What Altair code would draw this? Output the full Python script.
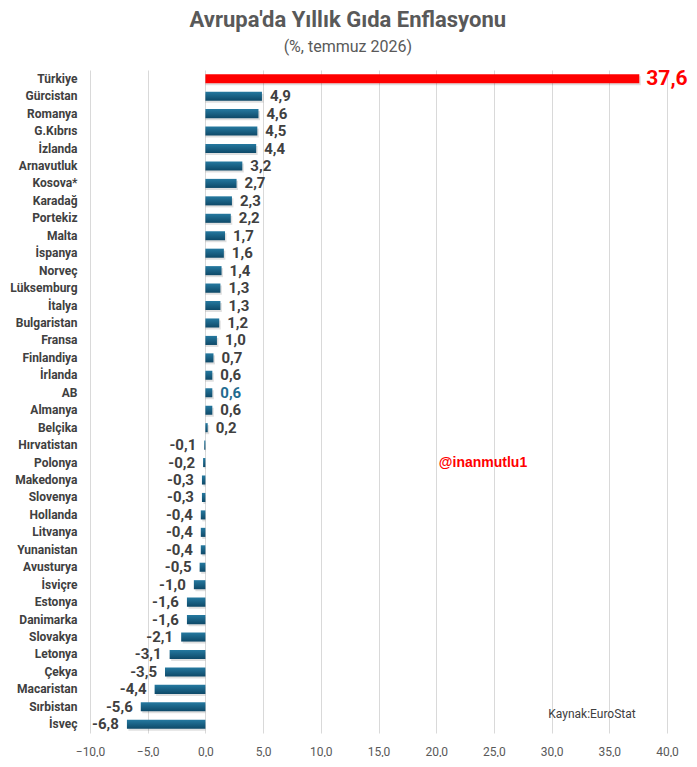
import altair as alt
import pandas as pd

countries = ["Türkiye", "Gürcistan", "Romanya", "G.Kıbrıs", "İzlanda", "Arnavutluk", "Kosova*",
             "Karadağ", "Portekiz", "Malta", "İspanya", "Norveç", "Lüksemburg", "İtalya",
             "Bulgaristan", "Fransa", "Finlandiya", "İrlanda", "AB", "Almanya", "Belçika",
             "Hırvatistan", "Polonya", "Makedonya", "Slovenya", "Hollanda", "Litvanya",
             "Yunanistan", "Avusturya", "İsviçre", "Estonya", "Danimarka", "Slovakya",
             "Letonya", "Çekya", "Macaristan", "Sırbistan", "İsveç"]
values = [37.6, 4.9, 4.6, 4.5, 4.4, 3.2, 2.7, 2.3, 2.2, 1.7, 1.6, 1.4, 1.3, 1.3, 1.2, 1.0,
          0.7, 0.6, 0.6, 0.6, 0.2, -0.1, -0.2, -0.3, -0.3, -0.4, -0.4, -0.4, -0.5, -1.0,
          -1.6, -1.6, -2.1, -3.1, -3.5, -4.4, -5.6, -6.8]
x_ticks = [-10, -5, 0, 5, 10, 15, 20, 25, 30, 35, 40]

df = pd.DataFrame({"country": countries, "value": values})
df["label"] = df["value"].map(lambda v: f"{v:.1f}".replace(".", ","))

FONT = "Roboto"
yenc = alt.Y("country:N", sort=countries, title=None,
             scale=alt.Scale(paddingInner=0.48, paddingOuter=0.24),
             axis=alt.Axis(labelFont=FONT, labelFontWeight="bold", labelFontSize=12,
                           labelColor="#404040", ticks=False, domain=False, labelPadding=13,
                           minExtent=82, maxExtent=82, grid=False))
xenc = alt.X("value:Q", title=None,
             scale=alt.Scale(domain=[-10, 40], nice=False),
             axis=alt.Axis(values=x_ticks, labelFont=FONT, labelFontSize=12,
                           labelColor="#595959", ticks=False, domain=False, grid=True,
                           gridColor="#d9d9d9", labelPadding=13, labelFlush=False,
                           labelExpr="replace(format(datum.value, '.1f'), '.', ',')"))

base = alt.Chart(df)

blue = alt.Gradient(gradient="linear", x1=0, y1=0, x2=0, y2=1,
                    stops=[alt.GradientStop(color="#2579a0", offset=0),
                           alt.GradientStop(color="#0e4968", offset=1)])

shadow = base.mark_bar(color="#000000", opacity=0.12, xOffset=1.5, yOffset=2).encode(
    x=xenc, x2=alt.datum(0), y=yenc)

bars = base.transform_filter(alt.datum.country != "Türkiye").mark_bar(color=blue).encode(
    x=xenc, x2=alt.datum(0), y=yenc)
red = base.transform_filter(alt.datum.country == "Türkiye").mark_bar(color="#ff0000").encode(
    x=xenc, x2=alt.datum(0), y=yenc)

LFONT = "Roboto"
pos_labels = base.transform_filter(
    (alt.datum.value >= 0) & (alt.datum.country != "Türkiye") & (alt.datum.country != "AB")
).mark_text(align="left", dx=8, font=LFONT, fontWeight="bold", fontSize=15,
            color="#404040").encode(x=xenc, y=yenc, text="label:N")
ab_label = base.transform_filter(alt.datum.country == "AB").mark_text(
    align="left", dx=8, font=LFONT, fontWeight="bold", fontSize=15,
    color="#1f6b8f").encode(x=xenc, y=yenc, text="label:N")
neg_labels = base.transform_filter(alt.datum.value < 0).mark_text(
    align="right", dx=-8, font=LFONT, fontWeight="bold", fontSize=15,
    color="#404040").encode(x=xenc, y=yenc, text="label:N")
tr_label = base.transform_filter(alt.datum.country == "Türkiye").mark_text(
    align="left", dx=7, font=LFONT, fontWeight="bold", fontSize=21,
    color="#ff0000").encode(x=xenc, y=yenc, text="label:N")

watermark = alt.Chart(pd.DataFrame({"t": ["@inanmutlu1"]})).mark_text(
    align="center", baseline="middle", font="Liberation Sans", fontWeight="bold",
    fontSize=14, color="#ff0000").encode(x=alt.value(393), y=alt.value(393), text="t:N")
source = alt.Chart(pd.DataFrame({"t": ["Kaynak:EuroStat"]})).mark_text(
    align="center", baseline="middle", font=FONT, fontSize=12,
    color="#404040").encode(x=alt.value(502), y=alt.value(644), text="t:N")

chart = alt.layer(shadow, bars, red, pos_labels, ab_label, neg_labels, tr_label,
                  watermark, source).properties(
    width=577, height=663,
    title=alt.TitleParams(text="Avrupa'da Yıllık Gıda Enflasyonu",
                          subtitle="(%, temmuz 2026)",
                          font=FONT, fontSize=22, fontWeight="bold", color="#595959",
                          subtitleFont=FONT, subtitleFontSize=16,
                          subtitleColor="#595959", subtitlePadding=7,
                          anchor="middle", frame="bounds", offset=12),
    padding={"left": 0, "top": 0, "right": 0, "bottom": 0}
).configure_view(stroke=None)

chart.save("out.html", embed_options={"renderer": "svg", "actions": False})
